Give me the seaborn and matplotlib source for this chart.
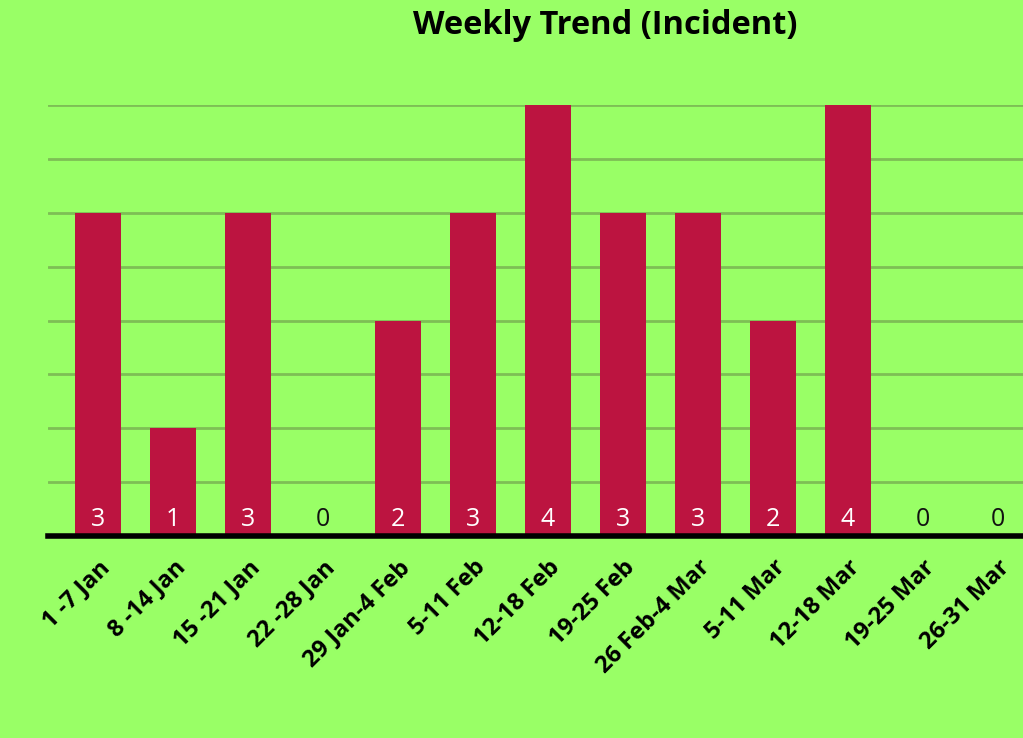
import matplotlib
matplotlib.use("Agg")
import matplotlib.pyplot as plt
import seaborn as sns
import pandas as pd

weeks = ["1 -7 Jan", "8 -14 Jan", "15 -21 Jan", "22 -28 Jan", "29 Jan-4 Feb",
         "5-11 Feb", "12-18 Feb", "19-25 Feb", "26 Feb-4 Mar", "5-11 Mar",
         "12-18 Mar", "19-25 Mar", "26-31 Mar"]
incidents = [3, 1, 3, 0, 2, 3, 4, 3, 3, 2, 4, 0, 0]

BG = "#99ff66"
BAR = "#bc1440"
GRID = "#7dbf55"

sns.set_style("white")
plt.rcParams["font.family"] = ["Open Sans", "DejaVu Sans"]

df = pd.DataFrame({"week": weeks, "count": incidents})

fig = plt.figure(figsize=(10.23, 7.38), dpi=100, facecolor=BG)
ax = fig.add_axes([48 / 1023, 202 / 738, 975 / 1023, 431 / 738])
ax.set_facecolor(BG)

# gridlines every half step, drawn under the bars
for y in [0.5 * i for i in range(1, 9)]:
    ax.axhline(y, color=GRID, lw=2, zorder=0)

sns.barplot(data=df, x="week", y="count", color=BAR, saturation=1,
            width=0.61, linewidth=0, ax=ax, zorder=2)

ax.set_xlim(-0.667, 12.333)
ax.set_ylim(0, 4)
ax.set_xlabel("")
ax.set_ylabel("")
ax.set_yticks([])
for s in ["top", "right", "left"]:
    ax.spines[s].set_visible(False)
ax.spines["bottom"].set_linewidth(4)
ax.spines["bottom"].set_color("black")
ax.spines["bottom"].set_zorder(3)
ax.tick_params(axis="x", length=0, pad=14)
ax.set_xticks(range(len(weeks)))
ax.set_xticklabels(weeks, rotation=45, ha="right", rotation_mode="anchor",
                   fontsize=17, fontweight="bold", color="black")

# value labels sitting at the bottom of each bar
for i, v in enumerate(incidents):
    ax.text(i, 0.04, str(v), ha="center", va="bottom", fontsize=18,
            color="white" if v > 0 else "#111111", zorder=4)

fig.text(605 / 1023, 1 - 25 / 738, "Weekly Trend (Incident)", ha="center",
         va="center", fontsize=23.5, fontweight="bold", color="black")

fig.savefig("out.png", dpi=100, facecolor=BG)
